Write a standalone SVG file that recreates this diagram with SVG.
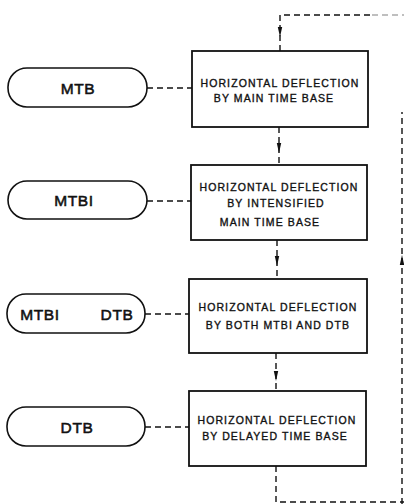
<svg xmlns="http://www.w3.org/2000/svg" width="404" height="504" viewBox="0 0 404 504">
<style>
.box{fill:#fff;stroke:#111;stroke-width:1.8}
.pill{fill:#fff;stroke:#111;stroke-width:1.6}
.bt{font-family:"Liberation Sans",Arial,sans-serif;font-size:10.5px;letter-spacing:1.1px;fill:#111;stroke:#111;stroke-width:0.35;text-anchor:middle}
.pt{font-family:"Liberation Sans",Arial,sans-serif;font-size:15.5px;letter-spacing:0.6px;fill:#111;stroke:#111;stroke-width:0.55;text-anchor:middle}
.dash{fill:none;stroke:#111;stroke-width:1.4;stroke-dasharray:6 4}
</style>
<defs>
<polygon id="ah" points="-2.2,-10 2.2,-10 0,0" fill="#111"/>
</defs>
<rect width="404" height="504" fill="#fff"/>
<g id="connectors">
<path class="dash" d="M280,51 V15 H370"/>
<path d="M372,15 H404" fill="none" stroke="#aaa" stroke-width="1.4" stroke-dasharray="6 4"/>
<use href="#ah" x="280" y="37"/>
<path class="dash" d="M279,127 V165"/>
<use href="#ah" x="279" y="153"/>
<path class="dash" d="M277,240 V279"/>
<use href="#ah" x="277" y="266"/>
<path class="dash" d="M276,353 V391"/>
<use href="#ah" x="276" y="381"/>
<path class="dash" d="M276,466 V502 H404"/>
<path class="dash" d="M402,504 V112"/>
<use href="#ah" x="402" y="255" transform="rotate(180 402 255)"/>
<path class="dash" d="M147,88 H192"/>
<path class="dash" d="M147,201 H191"/>
<path class="dash" d="M145,314 H189"/>
<path class="dash" d="M145,427 H189"/>
</g>
<g id="mtb">
<rect class="pill" x="8" y="68" width="139" height="39" rx="19" ry="19"/>
<text class="pt" x="78" y="93.5">MTB</text>
</g>
<g id="mtbi">
<rect class="pill" x="8" y="181" width="139" height="38" rx="19" ry="19"/>
<text class="pt" x="74" y="206" letter-spacing="1.5">MTBI</text>
</g>
<g id="mtbi-dtb">
<rect class="pill" x="7" y="294" width="138" height="39" rx="19" ry="19"/>
<text class="pt" x="40" y="319.5" letter-spacing="1.5">MTBI</text>
<text class="pt" x="117" y="319.5">DTB</text>
</g>
<g id="dtb">
<rect class="pill" x="7" y="407" width="138" height="39" rx="19" ry="19"/>
<text class="pt" x="77" y="432.5">DTB</text>
</g>
<g id="box1">
<rect class="box" x="192" y="51" width="176" height="76"/>
<text class="bt" x="280" y="86.5">HORIZONTAL DEFLECTION</text>
<text class="bt" x="274" y="102">BY MAIN TIME BASE</text>
</g>
<g id="box2">
<rect class="box" x="191" y="165" width="176" height="75"/>
<text class="bt" x="279" y="191">HORIZONTAL DEFLECTION</text>
<text class="bt" x="276" y="207">BY INTENSIFIED</text>
<text class="bt" x="270" y="226">MAIN TIME BASE</text>
</g>
<g id="box3">
<rect class="box" x="189" y="279" width="178" height="74"/>
<text class="bt" x="278" y="311">HORIZONTAL DEFLECTION</text>
<text class="bt" x="278" y="329">BY BOTH MTBI AND DTB</text>
</g>
<g id="box4">
<rect class="box" x="189" y="391" width="177" height="75"/>
<text class="bt" x="277" y="424">HORIZONTAL DEFLECTION</text>
<text class="bt" x="275" y="440">BY DELAYED TIME BASE</text>
</g>
</svg>
